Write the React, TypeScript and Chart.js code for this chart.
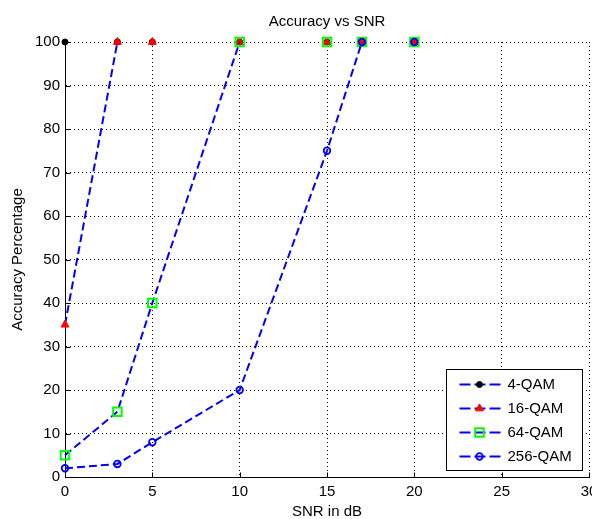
import React, { useEffect, useRef } from 'react';
import { Chart, registerables } from 'chart.js';

Chart.register(...registerables);

// ---- data ----
const snr = [0, 3, 5, 10, 15, 17, 20];
const qam4 = [100, 100, 100, 100, 100, 100, 100];
const qam16 = [35, 100, 100, 100, 100, 100, 100];
const qam64 = [5, 15, 40, 100, 100, 100, 100];
const qam256 = [2, 3, 8, 20, 75, 100, 100];
const seriesNames = ['4-QAM', '16-QAM', '64-QAM', '256-QAM'];
const xTicks = [0, 5, 10, 15, 20, 25, 30];
const yTicks = [0, 10, 20, 30, 40, 50, 60, 70, 80, 90, 100];
const yMax = 100;

const FONT = "'Liberation Sans', Arial, Helvetica, sans-serif";
const BLUE = '#0000ff';

type MarkerStyle = { shape: string; radius: number; fill: string; stroke: string; width: number };
const markers: MarkerStyle[] = [
  { shape: 'circle', radius: 3, fill: '#000000', stroke: '#000000', width: 1 },
  { shape: 'triangle', radius: 4.6, fill: '#ff0000', stroke: '#ff0000', width: 1 },
  { shape: 'rect', radius: 6, fill: 'rgba(0,0,0,0)', stroke: '#00ff00', width: 2 },
  { shape: 'circle', radius: 3.3, fill: 'rgba(0,0,0,0)', stroke: BLUE, width: 1.8 },
];

function drawMarker(ctx: CanvasRenderingContext2D, m: MarkerStyle, x: number, y: number) {
  ctx.save();
  ctx.beginPath();
  if (m.shape === 'circle') {
    ctx.arc(x, y, m.radius, 0, Math.PI * 2);
  } else if (m.shape === 'triangle') {
    const r = m.radius;
    ctx.moveTo(x, y - r);
    ctx.lineTo(x + r * Math.sin((2 * Math.PI) / 3), y - r * Math.cos((2 * Math.PI) / 3));
    ctx.lineTo(x + r * Math.sin((4 * Math.PI) / 3), y - r * Math.cos((4 * Math.PI) / 3));
    ctx.closePath();
  } else {
    const s = Math.SQRT1_2 * m.radius;
    ctx.rect(x - s, y - s, 2 * s, 2 * s);
  }
  ctx.fillStyle = m.fill;
  ctx.fill();
  ctx.lineWidth = m.width;
  ctx.strokeStyle = m.stroke;
  ctx.stroke();
  ctx.restore();
}

const framePlugin = {
  id: 'matlabFrame',
  beforeDatasetsDraw(chart: any) {
    const { ctx, chartArea, scales } = chart;
    ctx.save();
    ctx.strokeStyle = '#000';
    ctx.lineWidth = 1;
    ctx.setLineDash([]);
    const bottom = Math.round(chartArea.bottom) + 0.5;
    const left = Math.round(chartArea.left) + 0.5;
    xTicks.forEach((v) => {
      const x = Math.round(scales.x.getPixelForValue(v)) + 0.5;
      ctx.beginPath();
      ctx.moveTo(x, bottom);
      ctx.lineTo(x, bottom - 5);
      ctx.stroke();
    });
    yTicks.forEach((v) => {
      const y = Math.round(scales.y.getPixelForValue(v)) + 0.5;
      ctx.beginPath();
      ctx.moveTo(left, y);
      ctx.lineTo(left + 5, y);
      ctx.stroke();
    });
    ctx.restore();
  },
  afterDraw(chart: any) {
    const { ctx, chartArea } = chart;
    const w = 136;
    const h = 101;
    const bx = Math.round(chartArea.right - 7 - w) + 0.5;
    const by = Math.round(chartArea.bottom - 7 - h) + 0.5;
    ctx.save();
    ctx.fillStyle = '#ffffff';
    ctx.fillRect(bx, by, w, h);
    ctx.strokeStyle = '#000';
    ctx.lineWidth = 1;
    ctx.setLineDash([]);
    ctx.strokeRect(bx, by, w, h);
    ctx.font = `15px ${FONT}`;
    ctx.textBaseline = 'middle';
    ctx.textAlign = 'left';
    seriesNames.forEach((name, i) => {
      const y = by + 15 + i * 24;
      ctx.save();
      ctx.strokeStyle = BLUE;
      ctx.lineWidth = 2;
      ctx.setLineDash([11, 4]);
      ctx.beginPath();
      ctx.moveTo(bx + 13, y);
      ctx.lineTo(bx + 58, y);
      ctx.stroke();
      ctx.restore();
      drawMarker(ctx, markers[i], bx + 33, y);
      ctx.fillStyle = '#000';
      ctx.fillText(name, bx + 61, y + 0.5);
    });
    ctx.restore();
  },
};

function makeDataset(label: string, values: number[], idx: number, order: number) {
  const m = markers[idx];
  return {
    label,
    data: snr.map((x, i) => ({ x, y: values[i] })),
    borderColor: BLUE,
    backgroundColor: BLUE,
    borderWidth: 2,
    borderDash: [8, 4],
    tension: 0,
    fill: false,
    pointStyle: m.shape,
    pointRadius: m.radius,
    pointBackgroundColor: m.fill,
    pointBorderColor: m.stroke,
    pointBorderWidth: m.width,
    clip: false,
    order,
    // segments lying on the upper axis limit are clipped away (as in the original plot)
    segment: {
      borderColor: (c: any) =>
        c.p0.parsed.y >= yMax && c.p1.parsed.y >= yMax ? 'rgba(0,0,0,0)' : undefined,
    },
  };
}

const noPad = () => ({ left: 0, right: 0, top: 0, bottom: 0 });

export default function App() {
  const ref = useRef<HTMLCanvasElement | null>(null);
  useEffect(() => {
    if (!ref.current) return;
    const chart = new Chart(ref.current, {
      type: 'line',
      data: {
        datasets: [
          makeDataset(seriesNames[0], qam4, 0, 3),
          makeDataset(seriesNames[1], qam16, 1, 2),
          makeDataset(seriesNames[2], qam64, 2, 1),
          makeDataset(seriesNames[3], qam256, 3, 0),
        ] as any,
      },
      options: {
        responsive: false,
        animation: false,
        devicePixelRatio: 1,
        layout: { autoPadding: false, padding: { left: 0, right: 3, top: 0, bottom: 0 } },
        font: { family: FONT },
        plugins: {
          legend: { display: false },
          tooltip: { enabled: false },
          title: {
            display: true,
            fullSize: false,
            text: 'Accuracy vs SNR',
            color: '#000',
            font: { family: FONT, size: 15, weight: 'normal' as any, lineHeight: 1.2 },
            padding: { top: 13, bottom: 11 },
          },
        },
        scales: {
          x: {
            type: 'linear',
            min: 0,
            max: 30,
            afterFit: (s: any) => {
              s.height = 42;
              s.paddingRight = 0;
              s.paddingLeft = 0;
              s.getPadding = noPad;
            },
            afterBuildTicks: (s: any) => {
              s.ticks = xTicks.map((v) => ({ value: v }));
            },
            ticks: {
              color: '#000',
              padding: 6,
              maxRotation: 0,
              autoSkip: false,
              font: { family: FONT, size: 15, lineHeight: 1.2 },
            },
            grid: { color: '#000', lineWidth: 1, drawTicks: false },
            border: { display: true, color: '#000', width: 1, dash: [1, 3] },
            title: {
              display: true,
              text: 'SNR in dB',
              color: '#000',
              font: { family: FONT, size: 15, lineHeight: 1 },
              padding: { top: 0, bottom: 0 },
            },
          },
          y: {
            type: 'linear',
            min: 0,
            max: 100,
            afterFit: (s: any) => {
              s.width = 65;
            },
            afterBuildTicks: (s: any) => {
              s.ticks = yTicks.map((v) => ({ value: v }));
            },
            ticks: {
              color: '#000',
              padding: 5,
              autoSkip: false,
              font: { family: FONT, size: 15, lineHeight: 1.2 },
            },
            grid: { color: '#000', lineWidth: 1, drawTicks: false },
            border: { display: true, color: '#000', width: 1, dash: [1, 3] },
            title: {
              display: true,
              text: 'Accuracy Percentage',
              color: '#000',
              font: { family: FONT, size: 15, lineHeight: 1.2 },
              padding: { top: 9, bottom: 0 },
            },
          },
        },
      } as any,
      plugins: [framePlugin],
    });
    return () => chart.destroy();
  }, []);
  return (
    <div style={{ position: 'absolute', left: 0, top: 0, width: 592, height: 519, background: '#fff', overflow: 'hidden' }}>
      <canvas ref={ref} width={592} height={519} style={{ display: 'block', width: 592, height: 519 }} />
    </div>
  );
}
